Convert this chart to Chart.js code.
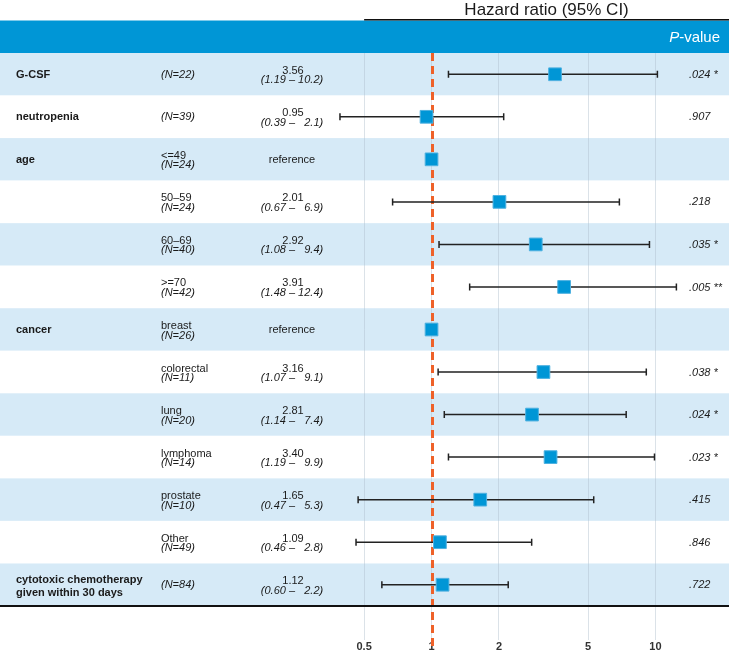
<!DOCTYPE html>
<html>
<head>
<meta charset="utf-8">
<script src="https://cdn.jsdelivr.net/npm/chart.js@4.4.0/dist/chart.umd.min.js"></script>
<style>
  html, body { margin: 0; padding: 0; background: #fff; }
  canvas { display: block; }
</style>
</head>
<body>
<canvas id="forest" width="729" height="651"></canvas>
<script>
// ===== DATA =====
const variables = ["G-CSF", "neutropenia", "age", "", "", "", "cancer", "", "", "", "", "", "cytotoxic chemotherapy|given within 30 days"];
const levels = ["", "", "<=49", "50–59", "60–69", ">=70", "breast", "colorectal", "lung", "lymphoma", "prostate", "Other", ""];
const counts = [22, 39, 24, 24, 40, 42, 26, 11, 20, 14, 10, 49, 84];
const hazardRatios = [3.56, 0.95, 1, 2.01, 2.92, 3.91, 1, 3.16, 2.81, 3.40, 1.65, 1.09, 1.12];
const ciLower = [1.19, 0.39, null, 0.67, 1.08, 1.48, null, 1.07, 1.14, 1.19, 0.47, 0.46, 0.60];
const ciUpper = [10.2, 2.1, null, 6.9, 9.4, 12.4, null, 9.1, 7.4, 9.9, 5.3, 2.8, 2.2];
const pValues = [".024 *", ".907", "", ".218", ".035 *", ".005 **", "", ".038 *", ".024 *", ".023 *", ".415", ".846", ".722"];
const xTicks = [0.5, 1, 2, 5, 10];

const FONT = "'Liberation Sans', Arial, Helvetica, sans-serif";
const BLUE = "#0096d6";
const LIGHT = "#d6eaf7";
const TEXT = "#1a1a1a";

function fmtUpper(v) {
    return v < 10 ? "  " + v.toFixed(1) : v.toFixed(1);
}

const forestPlugin = {
    id: "forest",
    beforeDraw(chart) {
        const { ctx, scales: { x, y } } = chart;
        const W = chart.width;
        ctx.save();
        // row bands
        hazardRatios.forEach((hr, i) => {
            const top = y.getPixelForValue(i + 0.5);
            const bottom = y.getPixelForValue(i + 1.5);
            ctx.fillStyle = i % 2 === 0 ? LIGHT : "#ffffff";
            ctx.fillRect(0, top, W, bottom - top);
        });
        // header bar
        ctx.fillStyle = BLUE;
        ctx.fillRect(0, 20.5, W, chart.chartArea.top - 20.5);
        ctx.strokeStyle = "#111";
        ctx.lineWidth = 1.5;
        ctx.beginPath();
        ctx.moveTo(x.getPixelForValue(0.5), 19.8);
        ctx.lineTo(W, 19.8);
        ctx.stroke();
        ctx.restore();
    },
    beforeDatasetsDraw(chart) {
        const { ctx, scales: { x, y } } = chart;
        ctx.save();
        // reference line at HR = 1
        const x1 = Math.round(x.getPixelForValue(1)) + 0.5;
        ctx.strokeStyle = "#ee6129";
        ctx.lineWidth = 3;
        ctx.setLineDash([8, 5]);
        ctx.beginPath();
        ctx.moveTo(x1, chart.chartArea.top);
        ctx.lineTo(x1, chart.height);
        ctx.stroke();
        ctx.setLineDash([]);
        // confidence intervals
        ctx.strokeStyle = "#222";
        ctx.lineWidth = 1.5;
        hazardRatios.forEach((hr, i) => {
            if (ciLower[i] == null) return;
            const py = y.getPixelForValue(i + 1);
            const a = x.getPixelForValue(ciLower[i]);
            const b = x.getPixelForValue(ciUpper[i]);
            ctx.beginPath();
            ctx.moveTo(a, py);
            ctx.lineTo(b, py);
            ctx.moveTo(a, py - 3.5);
            ctx.lineTo(a, py + 3.5);
            ctx.moveTo(b, py - 3.5);
            ctx.lineTo(b, py + 3.5);
            ctx.stroke();
        });
        ctx.restore();
    },
    afterDraw(chart) {
        const { ctx, scales: { x, y } } = chart;
        const W = chart.width;
        ctx.save();
        // bottom rule
        ctx.strokeStyle = "#111";
        ctx.lineWidth = 2;
        ctx.beginPath();
        ctx.moveTo(0, chart.chartArea.bottom);
        ctx.lineTo(W, chart.chartArea.bottom);
        ctx.stroke();

        // header texts
        ctx.fillStyle = "#1a1a1a";
        ctx.font = "17px " + FONT;
        ctx.textAlign = "center";
        ctx.textBaseline = "middle";
        ctx.fillText("Hazard ratio (95% CI)", (x.getPixelForValue(0.5) + W) / 2, 10);

        ctx.fillStyle = "#ffffff";
        ctx.textAlign = "left";
        ctx.font = "15px " + FONT;
        const rest = "-value";
        const restW = ctx.measureText(rest).width;
        ctx.font = "italic 15px " + FONT;
        const pW = ctx.measureText("P").width;
        const px0 = 720 - restW - pW;
        ctx.fillText("P", px0, 38);
        ctx.font = "15px " + FONT;
        ctx.fillText(rest, px0 + pW, 38);

        // row texts
        ctx.fillStyle = TEXT;
        hazardRatios.forEach((hr, i) => {
            const py = y.getPixelForValue(i + 1);
            // variable name
            ctx.font = "bold 11px " + FONT;
            ctx.textAlign = "left";
            const lines = variables[i].split("|").filter(s => s);
            lines.forEach((ln, k) => {
                const off = lines.length > 1 ? -4.5 + k * 13 : 0.5;
                ctx.fillText(ln, 16, py + off);
            });
            // level & N
            const nText = "(N=" + counts[i] + ")";
            if (levels[i]) {
                ctx.font = "11px " + FONT;
                ctx.fillText(levels[i], 161, py - 3.5);
                ctx.font = "italic 11px " + FONT;
                ctx.fillText(nText, 161, py + 6);
            } else {
                ctx.font = "italic 11px " + FONT;
                ctx.fillText(nText, 161, py + 0.5);
            }
            // HR & CI
            ctx.textAlign = "center";
            if (ciLower[i] == null) {
                ctx.font = "11px " + FONT;
                ctx.fillText("reference", 292, py + 0.5);
            } else {
                ctx.font = "11px " + FONT;
                ctx.fillText(hr.toFixed(2), 293, py - 3.5);
                ctx.font = "italic 11px " + FONT;
                ctx.fillText("(" + ciLower[i].toFixed(2) + " – " + fmtUpper(ciUpper[i]) + ")", 292, py + 6);
            }
            // p-value
            ctx.textAlign = "left";
            ctx.font = "italic 11px " + FONT;
            ctx.fillText(pValues[i], 689, py + 0.5);
        });
        ctx.restore();
    }
};

const rowIndex = hazardRatios.map((hr, i) => i + 1);

new Chart(document.getElementById("forest").getContext("2d"), {
    type: "scatter",
    data: {
        datasets: [{
            data: hazardRatios.map((hr, i) => ({ x: hr, y: rowIndex[i] })),
            pointStyle: "rect",
            pointRadius: 9,
            pointHoverRadius: 9,
            backgroundColor: BLUE,
            borderColor: "#4fb1e0",
            borderWidth: 1
        }]
    },
    options: {
        responsive: false,
        animation: false,
        events: [],
        layout: { autoPadding: false, padding: { left: 330, right: 0, top: 53, bottom: 0 } },
        plugins: { legend: { display: false }, tooltip: { enabled: false } },
        scales: {
            x: {
                type: "logarithmic",
                min: 0.352,
                max: 21.3,
                afterBuildTicks: (s) => { s.ticks = xTicks.map(v => ({ value: v })); },
                afterFit: (s) => { s.height = 45; },
                border: { display: false },
                grid: {
                    color: "rgba(175,190,205,0.45)",
                    lineWidth: 1,
                    drawTicks: true,
                    tickLength: 34
                },
                ticks: {
                    padding: 0,
                    autoSkip: false,
                    maxRotation: 0,
                    color: "#333",
                    font: { family: FONT, size: 11, weight: "bold" },
                    callback: (v) => String(v)
                }
            },
            y: {
                type: "linear",
                display: false,
                reverse: true,
                min: 0.5,
                max: 13.5
            }
        }
    },
    plugins: [forestPlugin]
});
</script>
</body>
</html>
